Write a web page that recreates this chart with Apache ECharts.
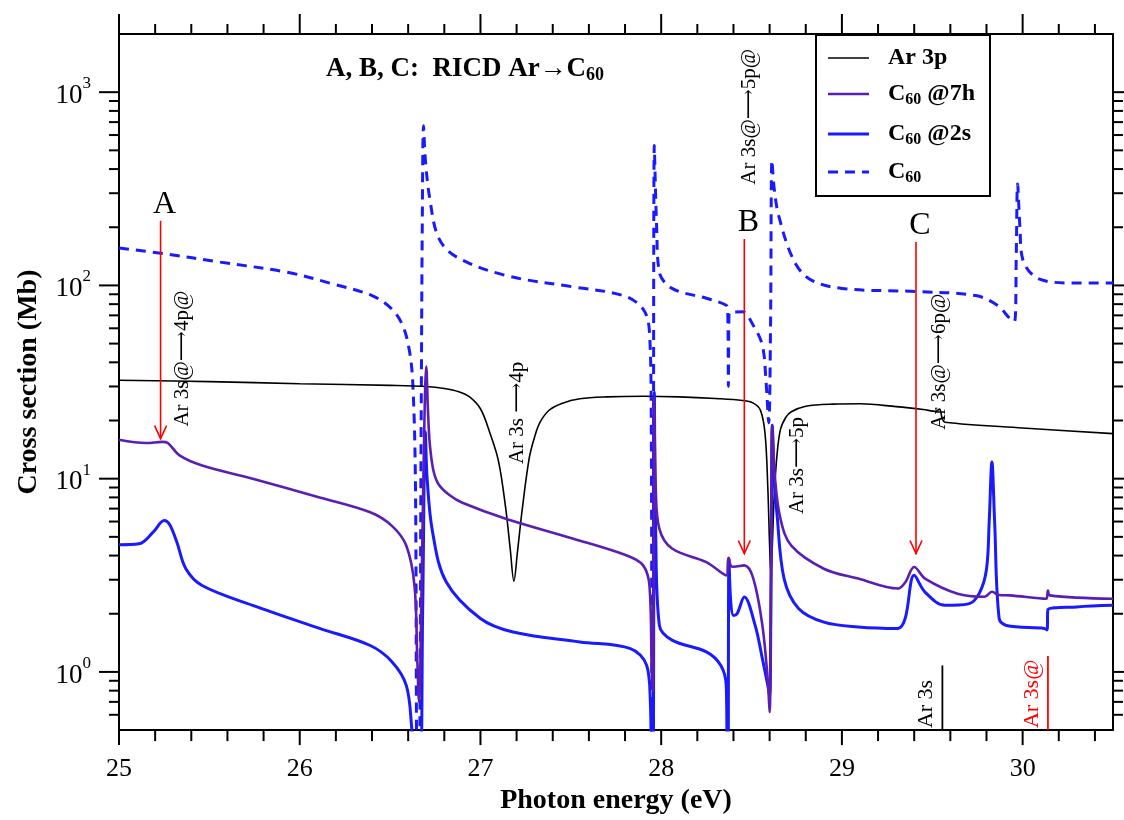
<!DOCTYPE html>
<html>
<head>
<meta charset="utf-8">
<script src="https://cdn.jsdelivr.net/npm/echarts@6.0.0/dist/echarts.min.js"></script>
<style>
html, body { margin: 0; padding: 0; background: #fff; }
#chart { width: 1124px; height: 820px; }
</style>
</head>
<body>
<div id="chart"></div>
<script>
const FONT = '"Liberation Serif", "DejaVu Serif", serif'
const X_MIN = 25
const X_MAX = 30.5
const Y_MIN = 0.5
const Y_MAX = 2000

const BLACK = '#000000'
const PURPLE = '#5a1eb4'
const BLUE = '#1a1aff'
const RED = '#ff0000'

// Ar 3p
const ar3pE = [25.0, 25.5, 26.0, 26.5, 26.7, 26.8, 26.88, 26.94, 27.0, 27.05, 27.1, 27.14, 27.165, 27.185, 27.205, 27.23, 27.27, 27.3, 27.33, 27.38, 27.45, 27.55, 27.7, 27.9, 28.1, 28.3, 28.45, 28.51, 28.55, 28.575, 28.59, 28.6, 28.607, 28.615, 28.625, 28.64, 28.66, 28.69, 28.72, 28.8, 28.95, 29.1, 29.3, 29.45, 29.52, 29.54, 29.555, 29.57, 30.0, 30.5]
const ar3pS = [32.3, 31.8, 31.0, 30.4, 30.0, 29.3, 28.2, 26.5, 23.0, 17.5, 12.3, 7.0, 4.3, 2.95, 4.2, 6.8, 12.8, 16.5, 19.6, 22.6, 24.5, 25.9, 26.5, 26.7, 26.5, 26.0, 25.4, 24.6, 22.5, 17.0, 9.0, 4.5, 3.2, 4.5, 8.0, 13.0, 18.0, 20.8, 22.2, 23.7, 24.3, 24.4, 23.6, 22.8, 22.3, 22.9, 20.5, 19.6, 18.3, 17.1]

// C60 @7h
const c7hE = [25.0, 25.15, 25.24, 25.27, 25.335, 25.46, 25.74, 26.11, 26.39, 26.51, 26.59, 26.635, 26.65, 26.66, 26.675, 26.69, 26.7, 26.71, 26.72, 26.74, 26.77, 26.83, 26.9, 27.14, 27.51, 27.81, 27.9, 27.935, 27.948, 27.955, 27.962, 27.97, 27.99, 28.06, 28.25, 28.36, 28.372, 28.385, 28.4, 28.46, 28.51, 28.56, 28.59, 28.6, 28.608, 28.615, 28.63, 28.66, 28.72, 28.9, 29.09, 29.31, 29.35, 29.4, 29.46, 29.64, 29.79, 29.83, 29.87, 29.93, 30.13, 30.14, 30.15, 30.5]
const c7hS = [15.9, 15.3, 15.5, 15.3, 13.2, 11.7, 10.0, 8.0, 6.7, 5.7, 4.5, 2.8, 1.2, 0.7, 3.0, 20, 38, 22, 15, 11, 9.3, 8.2, 7.5, 6.2, 4.9, 4.0, 3.56, 2.8, 1.0, 0.8, 26, 9.0, 5.5, 4.35, 3.7, 3.16, 3.9, 3.55, 3.5, 3.56, 3.04, 1.74, 0.9, 0.62, 3.0, 18.9, 10, 6.2, 4.5, 3.42, 3.04, 2.7, 2.9, 3.49, 3.04, 2.54, 2.45, 2.6, 2.5, 2.49, 2.39, 2.64, 2.49, 2.39]

// C60 @2s
const c2sE = [25.0, 25.11, 25.19, 25.25, 25.28, 25.32, 25.37, 25.46, 25.74, 26.11, 26.39, 26.51, 26.59, 26.62, 26.64, 26.665, 26.68, 26.695, 26.705, 26.735, 26.81, 27.0, 27.18, 27.55, 27.83, 27.92, 27.94, 27.948, 27.955, 27.962, 27.97, 27.99, 28.06, 28.25, 28.33, 28.36, 28.366, 28.37, 28.375, 28.385, 28.4, 28.42, 28.46, 28.52, 28.56, 28.59, 28.6, 28.608, 28.615, 28.625, 28.64, 28.68, 28.76, 28.9, 29.09, 29.31, 29.35, 29.4, 29.46, 29.57, 29.7, 29.76, 29.8, 29.815, 29.83, 29.845, 29.87, 29.91, 30.12, 30.135, 30.14, 30.3, 30.5]
const c2sS = [4.55, 4.6, 5.3, 6.08, 5.8, 4.7, 3.42, 2.8, 2.21, 1.68, 1.37, 1.13, 0.85, 0.51, 0.3, 0.3, 2.0, 17.5, 10, 5.3, 2.93, 1.89, 1.61, 1.43, 1.32, 1.08, 0.7, 0.3, 0.3, 28, 5.0, 1.74, 1.46, 1.27, 1.08, 0.85, 0.3, 0.3, 3.86, 2.3, 1.96, 2.0, 2.44, 1.74, 1.17, 0.85, 0.75, 3.0, 18.9, 10, 6.7, 3.04, 2.13, 1.81, 1.71, 1.68, 1.89, 3.16, 2.59, 2.21, 2.25, 2.55, 3.4, 6.0, 12.2, 6.0, 1.89, 1.74, 1.68, 1.65, 2.1, 2.17, 2.21]

// C60 (free)
const c60E = [25.0, 25.25, 25.56, 25.93, 26.18, 26.4, 26.51, 26.57, 26.605, 26.625, 26.64, 26.65, 26.66, 26.672, 26.678, 26.685, 26.695, 26.72, 26.77, 26.87, 27.14, 27.51, 27.79, 27.9, 27.935, 27.945, 27.95, 27.955, 27.962, 27.975, 27.99, 28.06, 28.25, 28.36, 28.368, 28.372, 28.376, 28.45, 28.51, 28.56, 28.58, 28.595, 28.605, 28.613, 28.625, 28.65, 28.73, 28.82, 29.0, 29.41, 29.74, 29.86, 29.93, 29.955, 29.965, 29.972, 29.985, 30.0, 30.09, 30.28, 30.5]
const c60S = [156, 146, 132, 117, 102, 88.6, 75.5, 62, 47, 32, 10, 0.3, 0.3, 20, 200, 670, 450, 280, 175, 140, 112.6, 98.3, 88.6, 75.5, 57.7, 20, 0.3, 0.3, 530, 200, 117, 96.5, 85.8, 79, 75, 30, 72, 73, 62, 49, 32, 19.5, 60, 443, 320, 230, 137, 108, 96.5, 93, 88.6, 79, 67.3, 65, 150, 335, 200, 137, 108, 103, 103]

// axis ticks
const xMajorTicks = [25, 26, 27, 28, 29, 30]
const xMinorTicks = [25.2, 25.4, 25.6, 25.8, 26.2, 26.4, 26.6, 26.8, 27.2, 27.4, 27.6, 27.8, 28.2, 28.4, 28.6, 28.8, 29.2, 29.4, 29.6, 29.8, 30.2, 30.4]
const yMajorTicks = [1, 10, 100, 1000]
const yMinorTicks = [0.6, 0.7, 0.8, 0.9, 2, 3, 4, 5, 6, 7, 8, 9, 20, 30, 40, 50, 60, 70, 80, 90, 200, 300, 400, 500, 600, 700, 800, 900]
const yTickExp = ['0', '1', '2', '3']

// resonance arrows A, B, C
const arrowE = [25.23, 28.46, 29.41]
const arrowTop = [216, 174, 168]
const arrowBottom = [16.1, 4.1, 4.1]
const arrowLetter = ['A', 'B', 'C']

// rotated transition labels
const noteE = [25.35, 27.205, 28.488, 28.755, 29.54]
const noteS = [41.8, 21.9, 746, 11.7, 40.3]
const noteText = ['Ar 3s@⟶4p@', 'Ar 3s ⟶4p', 'Ar 3s@⟶5p@', 'Ar 3s⟶5p', 'Ar 3s@⟶6p@']

// thresholds
const thrE = [29.556, 30.14]
const thrTop = [1.08, 1.21]
const thrText = ['Ar 3s', 'Ar 3s@']
const thrColor = [BLACK, RED]

function pairs (xs, ys) {
  return xs.map((x, i) => [x, ys[i]])
}

const chart = echarts.init(document.getElementById('chart'))

const lineBase = {
  type: 'line',
  showSymbol: false,
  symbol: 'none',
  smooth: 0.35,
  clip: true,
  silent: true,
  animation: false
}

const tickStyle = { stroke: BLACK, lineWidth: 2 }

const subRich = {
  b: { fontFamily: FONT, fontWeight: 'bold', fontSize: 24, fill: BLACK, lineHeight: 26, verticalAlign: 'top' },
  s: { fontFamily: FONT, fontWeight: 'bold', fontSize: 16, fill: BLACK, lineHeight: 16, padding: [14, 0, 0, 0], verticalAlign: 'bottom' }
}

const option = {
  backgroundColor: '#fff',
  animation: false,
  grid: { left: 119, right: 11, top: 34, bottom: 89, containLabel: false },
  xAxis: [{
    type: 'value',
    min: X_MIN,
    max: X_MAX,
    interval: 1,
    position: 'bottom',
    name: 'Photon energy (eV)',
    nameLocation: 'middle',
    nameGap: 56,
    nameTextStyle: { fontFamily: FONT, fontWeight: 'bold', fontSize: 28, color: BLACK },
    axisLine: { show: true, lineStyle: { color: BLACK, width: 2 } },
    axisTick: { show: false },
    splitLine: { show: false },
    axisLabel: {
      margin: 26,
      fontFamily: FONT,
      fontSize: 26,
      color: BLACK,
      formatter: v => (xMajorTicks.indexOf(v) >= 0 ? String(v) : '')
    }
  }, {
    type: 'value',
    min: X_MIN,
    max: X_MAX,
    interval: 1,
    position: 'top',
    axisLine: { show: true, lineStyle: { color: BLACK, width: 2 } },
    axisTick: { show: false },
    axisLabel: { show: false },
    splitLine: { show: false }
  }],
  yAxis: [{
    type: 'log',
    min: Y_MIN,
    max: Y_MAX,
    position: 'left',
    name: 'Cross section (Mb)',
    nameLocation: 'middle',
    nameGap: 76,
    nameTextStyle: { fontFamily: FONT, fontWeight: 'bold', fontSize: 28, color: BLACK },
    axisLine: { show: true, lineStyle: { color: BLACK, width: 2 } },
    axisTick: { show: false },
    splitLine: { show: false },
    axisLabel: {
      margin: 28,
      color: BLACK,
      formatter: v => {
        const i = yMajorTicks.findIndex(t => Math.abs(t - v) < 1e-6 * t)
        return i < 0 ? '' : '{b|10}{e|' + yTickExp[i] + '}'
      },
      rich: {
        b: { fontFamily: FONT, fontSize: 27, color: BLACK, lineHeight: 34, verticalAlign: 'bottom' },
        e: { fontFamily: FONT, fontSize: 17, color: BLACK, lineHeight: 17, verticalAlign: 'top' }
      }
    }
  }, {
    type: 'log',
    min: Y_MIN,
    max: Y_MAX,
    position: 'right',
    axisLine: { show: true, lineStyle: { color: BLACK, width: 2 } },
    axisTick: { show: false },
    axisLabel: { show: false },
    splitLine: { show: false }
  }],
  series: [
    Object.assign({}, lineBase, {
      name: 'Ar 3p',
      data: pairs(ar3pE, ar3pS),
      lineStyle: { color: BLACK, width: 1.6 },
      z: 3
    }),
    Object.assign({}, lineBase, {
      name: 'C60',
      data: pairs(c60E, c60S),
      lineStyle: { color: BLUE, width: 3, type: [10, 7] },
      z: 2
    }),
    Object.assign({}, lineBase, {
      name: 'C60 @2s',
      data: pairs(c2sE, c2sS),
      lineStyle: { color: BLUE, width: 3 },
      z: 4
    }),
    Object.assign({}, lineBase, {
      name: 'C60 @7h',
      data: pairs(c7hE, c7hS),
      lineStyle: { color: PURPLE, width: 2.6 },
      z: 5
    }),
    // y ticks, both sides
    {
      type: 'custom',
      silent: true,
      clip: false,
      z: 10,
      data: yMajorTicks.map(v => [X_MIN, v, 1]).concat(yMinorTicks.map(v => [X_MIN, v, 0])),
      renderItem: (params, api) => {
        const y = api.value(1)
        const len = api.value(2) ? 20 : 10
        const l = api.coord([X_MIN, y])
        const r = api.coord([X_MAX, y])
        return {
          type: 'group',
          children: [
            { type: 'line', shape: { x1: l[0] - len, y1: l[1], x2: l[0], y2: l[1] }, style: tickStyle },
            { type: 'line', shape: { x1: r[0], y1: r[1], x2: r[0] + len, y2: r[1] }, style: tickStyle }
          ]
        }
      }
    },
    // x ticks, bottom and top
    {
      type: 'custom',
      silent: true,
      clip: false,
      z: 10,
      data: xMajorTicks.map(v => [v, Y_MIN, 1]).concat(xMinorTicks.map(v => [v, Y_MIN, 0])),
      renderItem: (params, api) => {
        const x = api.value(0)
        const major = api.value(2)
        const b = api.coord([x, Y_MIN])
        const t = api.coord([x, Y_MAX])
        return {
          type: 'group',
          children: [
            { type: 'line', shape: { x1: b[0], y1: b[1], x2: b[0], y2: b[1] + (major ? 15 : 11) }, style: tickStyle },
            { type: 'line', shape: { x1: t[0], y1: t[1] - (major ? 20 : 10), x2: t[0], y2: t[1] }, style: tickStyle }
          ]
        }
      }
    },
    // red arrows with letters
    {
      type: 'custom',
      silent: true,
      clip: false,
      z: 6,
      data: arrowE.map((e, i) => [e, arrowTop[i], arrowBottom[i]]),
      renderItem: (params, api) => {
        const top = api.coord([api.value(0), api.value(1)])
        const bot = api.coord([api.value(0), api.value(2)])
        return {
          type: 'group',
          children: [
            { type: 'line', shape: { x1: top[0], y1: top[1], x2: bot[0], y2: bot[1] }, style: { stroke: RED, lineWidth: 1.6 } },
            { type: 'polyline', shape: { points: [[bot[0] - 6, bot[1] - 13], [bot[0], bot[1]], [bot[0] + 6, bot[1] - 13]] }, style: { stroke: RED, lineWidth: 1.6, fill: 'none' } },
            { type: 'text', x: top[0] + 4, y: top[1] - 16, style: { text: arrowLetter[params.dataIndex], font: '32px ' + FONT, fill: BLACK, align: 'center', verticalAlign: 'middle' } }
          ]
        }
      }
    },
    // rotated transition labels
    {
      type: 'custom',
      silent: true,
      clip: false,
      z: 6,
      data: noteE.map((e, i) => [e, noteS[i]]),
      renderItem: (params, api) => {
        const p = api.coord([api.value(0), api.value(1)])
        return {
          type: 'text',
          x: p[0],
          y: p[1],
          rotation: Math.PI / 2,
          style: { text: noteText[params.dataIndex], font: '21px ' + FONT, fill: BLACK, align: 'center', verticalAlign: 'middle' }
        }
      }
    },
    // threshold markers
    {
      type: 'custom',
      silent: true,
      clip: false,
      z: 6,
      data: thrE.map((e, i) => [e, thrTop[i]]),
      renderItem: (params, api) => {
        const top = api.coord([api.value(0), api.value(1)])
        const bot = api.coord([api.value(0), Y_MIN])
        const c = thrColor[params.dataIndex]
        return {
          type: 'group',
          children: [
            { type: 'line', shape: { x1: top[0], y1: top[1], x2: bot[0], y2: bot[1] }, style: { stroke: c, lineWidth: 1.8 } },
            { type: 'text', x: bot[0] - 16, y: bot[1] - 2, rotation: Math.PI / 2, style: { text: thrText[params.dataIndex], font: '22px ' + FONT, fill: c, align: 'left', verticalAlign: 'middle' } }
          ]
        }
      }
    }
  ],
  graphic: [
    {
      type: 'text',
      x: 465,
      y: 70,
      z: 20,
      style: {
        text: '{b|A, B, C:  RICD Ar→C}{s|60}',
        align: 'center',
        verticalAlign: 'middle',
        rich: {
          b: { fontFamily: FONT, fontWeight: 'bold', fontSize: 27, fill: BLACK, lineHeight: 28, verticalAlign: 'top' },
          s: { fontFamily: FONT, fontWeight: 'bold', fontSize: 18, fill: BLACK, lineHeight: 18, padding: [15, 0, 0, 0], verticalAlign: 'bottom' }
        }
      }
    },
    {
      type: 'group',
      left: 815,
      top: 34,
      z: 20,
      children: [
        { type: 'rect', shape: { x: 0, y: 0, width: 174, height: 161 }, style: { fill: '#fff', stroke: BLACK, lineWidth: 2 } },
        { type: 'line', shape: { x1: 12, y1: 23, x2: 53, y2: 23 }, style: { stroke: BLACK, lineWidth: 1.6 } },
        { type: 'line', shape: { x1: 12, y1: 59, x2: 53, y2: 59 }, style: { stroke: PURPLE, lineWidth: 2.6 } },
        { type: 'line', shape: { x1: 12, y1: 99, x2: 53, y2: 99 }, style: { stroke: BLUE, lineWidth: 3 } },
        { type: 'line', shape: { x1: 12, y1: 137, x2: 53, y2: 137 }, style: { stroke: BLUE, lineWidth: 3, lineDash: [10, 7] } },
        { type: 'text', x: 72, y: 23, style: { text: 'Ar 3p', font: 'bold 24px ' + FONT, fill: BLACK, align: 'left', verticalAlign: 'middle' } },
        { type: 'text', x: 72, y: 60, style: { text: '{b|C}{s|60}{b| @7h}', align: 'left', verticalAlign: 'middle', rich: subRich } },
        { type: 'text', x: 72, y: 100, style: { text: '{b|C}{s|60}{b| @2s}', align: 'left', verticalAlign: 'middle', rich: subRich } },
        { type: 'text', x: 72, y: 138, style: { text: '{b|C}{s|60}', align: 'left', verticalAlign: 'middle', rich: subRich } }
      ]
    }
  ]
}

chart.setOption(option)
</script>
</body>
</html>
